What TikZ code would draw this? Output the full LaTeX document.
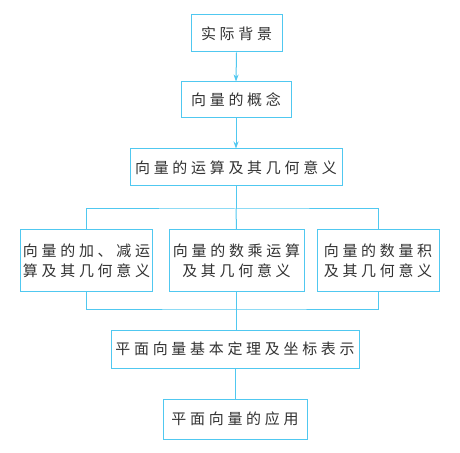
\documentclass[tikz,border=0pt]{standalone}
\usepackage{fontspec}
\usetikzlibrary{arrows.meta}
\newfontfamily\cjk[LetterSpace=25]{Noto Sans CJK SC}
\definecolor{ln}{RGB}{80,200,240}
\definecolor{tx}{RGB}{50,50,50}
\begin{document}
\begin{tikzpicture}[x=1bp,y=-1bp,
  box/.style={draw=ln,line width=1bp,fill=white,text=tx,
    font=\cjk\fontsize{15}{20}\selectfont,inner sep=0pt,align=center},
  conn/.style={draw=ln,line width=1bp},
  arr/.style={conn,-{Stealth[length=7bp,width=5bp]}}]
\useasboundingbox[fill=white] (0,0) rectangle (460,453);
\node[box,minimum width=91bp,minimum height=37bp] (b1) at (236.5,33.5) {实际背景};
\node[box,minimum width=110bp,minimum height=36bp] (b2) at (236,100) {向量的概念};
\node[box,minimum width=212bp,minimum height=37bp] (b3) at (236,167.5) {向量的运算及其几何意义};
\node[box,minimum width=131bp,minimum height=61bp] (b4) at (86.5,260.5) {向量的加、减运\\算及其几何意义};
\node[box,minimum width=135bp,minimum height=61bp] (b5) at (236.5,260.5) {向量的数乘运算\\及其几何意义};
\node[box,minimum width=122bp,minimum height=61bp] (b6) at (378,260.5) {向量的数量积\\及其几何意义};
\node[box,minimum width=248bp,minimum height=38bp] (b7) at (235,349) {平面向量基本定理及坐标表示};
\node[box,minimum width=144bp,minimum height=40bp] (b8) at (235,419) {平面向量的应用};
\coordinate (j1) at (236,209);
\coordinate (j2) at (236,309);
\draw[arr] (b1.south) -- (b2.north);
\draw[arr] (b2.south) -- (b3.north);
\draw[conn] (b3.south) -- (j1);
\draw[conn] (b4.north) |- (j1) -| (b6.north);
\draw[conn] (j1) -- (b5.north);
\draw[conn] (b4.south) |- (j2) -| (b6.south);
\draw[conn] (b5.south) -- (b5.south |- j2);
\draw[conn] (b5.south |- j2) -- (b5.south |- b7.north);
\draw[conn] (b7.south) -- (b8.north);
\end{tikzpicture}
\end{document}
